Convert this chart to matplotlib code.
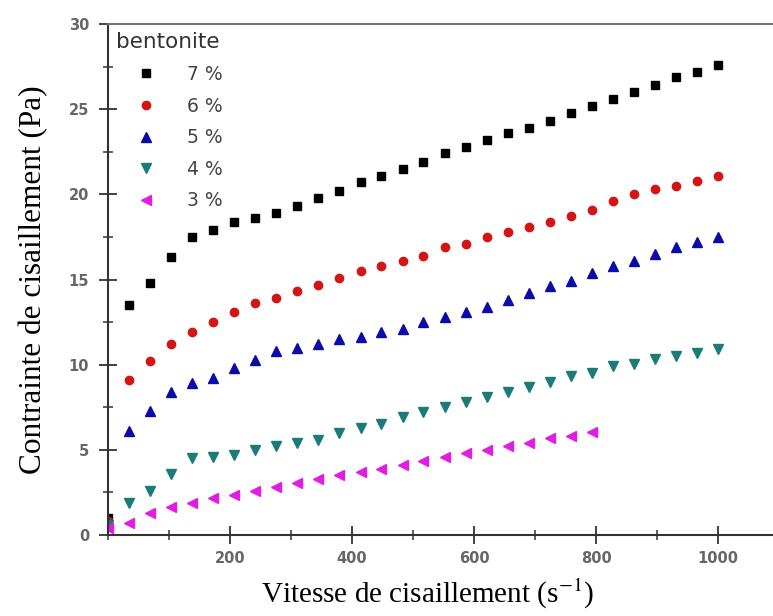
import matplotlib.pyplot as plt
from matplotlib.ticker import MultipleLocator

plt.rcParams['mathtext.fontset'] = 'stix'

# Shear rate (s^-1), first point at the origin
shear_rate = [0, 34, 69, 103, 138, 172, 207, 241, 276, 310, 345, 379, 414, 448, 483,
              517, 552, 586, 621, 655, 690, 724, 759, 793, 828, 862, 897, 931, 966, 1000]

# Shear stress (Pa) per bentonite concentration
stress_7 = [1.0, 13.5, 14.8, 16.3, 17.5, 17.9, 18.4, 18.6, 18.9, 19.3, 19.8, 20.2, 20.7, 21.1, 21.5,
            21.9, 22.4, 22.8, 23.2, 23.6, 23.9, 24.3, 24.8, 25.2, 25.6, 26.0, 26.4, 26.9, 27.2, 27.6]
stress_6 = [0.8, 9.1, 10.2, 11.2, 11.9, 12.5, 13.1, 13.6, 13.9, 14.3, 14.7, 15.1, 15.5, 15.8, 16.1,
            16.4, 16.9, 17.1, 17.5, 17.8, 18.1, 18.4, 18.7, 19.1, 19.6, 20.0, 20.3, 20.5, 20.8, 21.1]
stress_5 = [0.7, 6.1, 7.3, 8.4, 8.9, 9.2, 9.8, 10.3, 10.8, 11.0, 11.2, 11.5, 11.6, 11.9, 12.1,
            12.5, 12.8, 13.1, 13.4, 13.8, 14.2, 14.6, 14.9, 15.4, 15.8, 16.1, 16.5, 16.9, 17.2, 17.5]
stress_4 = [0.6, 1.9, 2.6, 3.6, 4.5, 4.6, 4.7, 5.0, 5.2, 5.4, 5.6, 6.0, 6.3, 6.5, 6.9,
            7.2, 7.5, 7.8, 8.1, 8.4, 8.7, 9.0, 9.35, 9.5, 9.9, 10.05, 10.35, 10.5, 10.7, 10.9]
stress_3 = [0.4, 0.7, 1.3, 1.65, 1.9, 2.2, 2.35, 2.6, 2.8, 3.05, 3.3, 3.5, 3.7, 3.9, 4.1,
            4.35, 4.6, 4.8, 5.0, 5.2, 5.4, 5.7, 5.8, 6.05]

labels = ['7 %', '6 %', '5 %', '4 %', '3 %']

fig = plt.figure(figsize=(7.73, 6.16), dpi=100)
ax = fig.add_axes([0.1397, 0.1315, 0.8603, 0.8295])

ax.plot(shear_rate, stress_7, 's', color='black', ms=6, label=labels[0])
ax.plot(shear_rate, stress_6, 'o', color='#d41515', ms=6, label=labels[1])
ax.plot(shear_rate, stress_5, '^', color='#0b0ba8', ms=7.5, label=labels[2])
ax.plot(shear_rate, stress_4, 'v', color='#1b7b78', ms=7.5, label=labels[3])
ax.plot(shear_rate[:len(stress_3)], stress_3, '<', color='#e01ee0', ms=7.5, label=labels[4])

ax.set_xlim(0, 1090)
ax.set_ylim(0, 30)
ax.set_xticks([200, 400, 600, 800, 1000])
ax.xaxis.set_minor_locator(MultipleLocator(100))
ax.yaxis.set_major_locator(MultipleLocator(5))
ax.yaxis.set_minor_locator(MultipleLocator(2.5))
ax.tick_params(which='major', direction='inout', length=13, width=1.3, color='#333333',
               labelsize=10.5, labelcolor='#666666')
ax.tick_params(which='minor', direction='inout', length=7, width=1.1, color='#333333')
ax.tick_params(axis='x', which='major', pad=5)
ax.tick_params(axis='y', which='major', pad=7)
for lab in ax.get_xticklabels() + ax.get_yticklabels():
    lab.set_fontweight('bold')

ax.spines['right'].set_visible(False)
ax.spines['top'].set_color('#777777')
ax.spines['top'].set_linewidth(1.5)
ax.spines['left'].set_color('#333333')
ax.spines['left'].set_linewidth(1.5)
ax.spines['bottom'].set_color('#333333')
ax.spines['bottom'].set_linewidth(1.5)

ax.set_xlabel('Vitesse de cisaillement (s$^{-1}$)', family='Liberation Serif',
              fontsize=21, labelpad=8)
ax.xaxis.label.set_x(0.48)
ax.set_ylabel('Contrainte de cisaillement (Pa)', family='Liberation Serif', fontsize=22.5, labelpad=15)

leg = ax.legend(title='bentonite', loc='upper left', frameon=False, alignment='left',
                fontsize=13.5, title_fontsize=15.5, labelspacing=0.67, handlelength=3.2,
                handletextpad=0.55, borderaxespad=0.3, borderpad=0.15)
for t in leg.get_texts():
    t.set_color('#444444')
leg.get_title().set_color('#333333')

plt.savefig('out.png', dpi=100)
